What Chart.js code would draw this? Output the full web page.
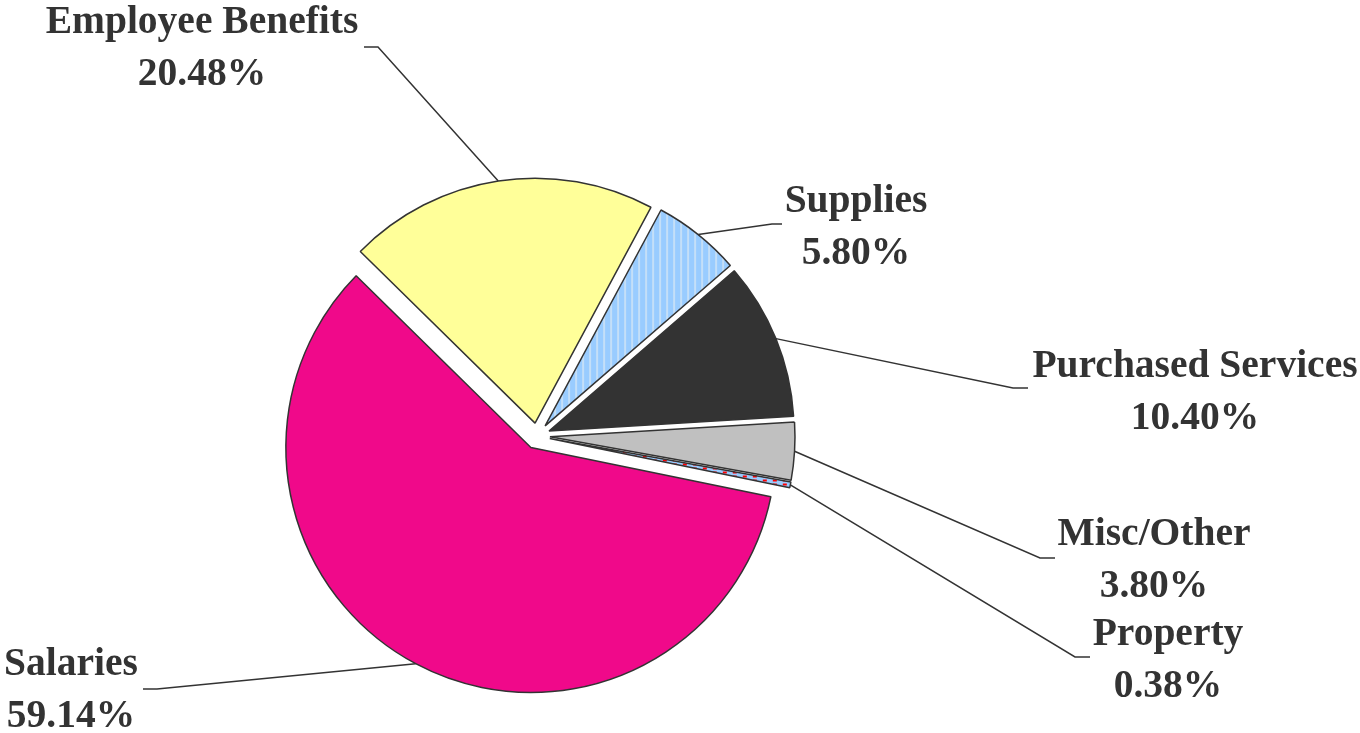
<!DOCTYPE html>
<html lang="en">

<head>
    <meta charset="UTF-8">
    <meta name="viewport" content="width=device-width, initial-scale=1.0">
    <script src="https://cdn.jsdelivr.net/npm/chart.js"></script>
    <title>Expenditures</title>
    <style>
        html,
        body {
            margin: 0;
            padding: 0;
            background: #ffffff;
        }
    </style>
</head>

<body>
    <canvas id="chart-exp" width="1360" height="733"></canvas>
</body>

</html>

<script>
    // slices, clockwise from the upper left
    const categories = ['Employee Benefits', 'Supplies', 'Purchased Services', 'Misc/Other', 'Property', 'Salaries'];
    const percents = [20.48, 5.80, 10.40, 3.80, 0.38, 59.14];

    // where each label sits: text centre + first baseline, then the leader elbow and end
    const labelPos = [
        { x: 202, y: 33, elbow: [378, 47], end: [364, 47] },
        { x: 856, y: 212, elbow: [772, 224], end: [782, 224] },
        { x: 1195, y: 377, elbow: [1013, 388], end: [1028, 388] },
        { x: 1154, y: 545, elbow: [1040, 558], end: [1055, 558] },
        { x: 1168, y: 645, elbow: [1075, 657], end: [1090, 657] },
        { x: 71, y: 675, elbow: [157, 689], end: [143, 689] }
    ];

    // how far every slice is pulled out from the centre (px)
    const gap = 13;

    // striped blue fill for supplies
    function stripes() {
        const c = document.createElement('canvas');
        c.width = 7; c.height = 7;
        const g = c.getContext('2d');
        g.fillStyle = '#99ccff';
        g.fillRect(0, 0, 7, 7);
        g.fillStyle = '#c4dff8';
        g.fillRect(0, 0, 2, 7);
        return g.createPattern(c, 'repeat');
    }

    // blue with red dashes for property
    function dashes() {
        const c = document.createElement('canvas');
        c.width = 10; c.height = 4;
        const g = c.getContext('2d');
        g.fillStyle = '#99ccff';
        g.fillRect(0, 0, 10, 4);
        g.fillStyle = '#ff0000';
        g.fillRect(0, 1, 4, 2);
        return g.createPattern(c, 'repeat');
    }

    const colors = ['#ffff99', stripes(), '#333333', '#c0c0c0', dashes(), '#f0098a'];

    // chart.js offset also grows the radius of some slices, so shift the arcs ourselves
    const explode = {
        id: 'explode',
        beforeDatasetsDraw(chart) {
            chart.getDatasetMeta(0).data.forEach(arc => {
                if (arc._exploded) return;
                const draw = arc.draw;
                arc.draw = function (ctx) {
                    const mid = (this.startAngle + this.endAngle) / 2;
                    ctx.save();
                    ctx.translate(Math.cos(mid) * gap, Math.sin(mid) * gap);
                    draw.call(this, ctx);
                    ctx.restore();
                };
                arc._exploded = true;
            });
        }
    };

    const leaderLabels = {
        id: 'leaderLabels',
        afterDraw(chart) {
            const ctx = chart.ctx;
            const arcs = chart.getDatasetMeta(0).data;
            ctx.save();
            arcs.forEach((arc, i) => {
                const p = arc.getProps(['x', 'y', 'startAngle', 'endAngle', 'outerRadius'], true);
                const mid = (p.startAngle + p.endAngle) / 2;
                const sx = p.x + Math.cos(mid) * (p.outerRadius + gap);
                const sy = p.y + Math.sin(mid) * (p.outerRadius + gap);
                const pos = labelPos[i];

                ctx.strokeStyle = '#333333';
                ctx.lineWidth = 1.5;
                ctx.beginPath();
                ctx.moveTo(sx, sy);
                ctx.lineTo(pos.elbow[0], pos.elbow[1]);
                ctx.lineTo(pos.end[0], pos.end[1]);
                ctx.stroke();

                ctx.fillStyle = '#333333';
                ctx.font = 'bold 39.5px "Liberation Serif"';
                ctx.textAlign = 'center';
                ctx.textBaseline = 'alphabetic';
                ctx.fillText(categories[i], pos.x, pos.y);
                ctx.fillText(percents[i].toFixed(2) + '%', pos.x, pos.y + 52);
            });
            ctx.restore();
        }
    };

    const ctxExp = document.getElementById('chart-exp');

    new Chart(ctxExp, {
        type: 'pie',
        data: {
            labels: categories,
            datasets: [{
                data: percents,
                backgroundColor: colors,
                borderColor: '#333333',
                borderWidth: 1.5,
                radius: 245
            }]
        },
        options: {
            responsive: false,
            animation: false,
            rotation: -45.5,
            layout: {
                padding: { left: 0, right: 286, top: 139, bottom: 0 }
            },
            plugins: {
                legend: { display: false },
                tooltip: { enabled: false }
            }
        },
        plugins: [explode, leaderLabels]
    });
</script>
